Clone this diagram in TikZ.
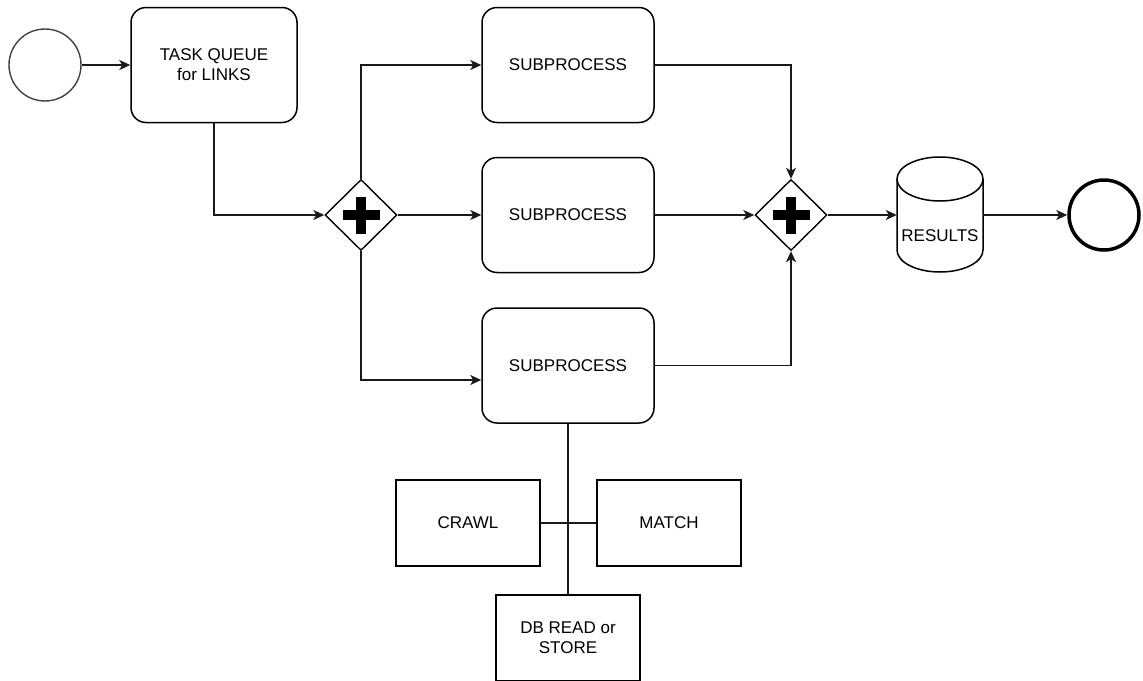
\documentclass[tikz,border=0pt]{standalone}
\usepackage{fontspec}
\setmainfont{Liberation Sans}
\usetikzlibrary{arrows.meta,shapes.geometric}
\begin{document}
\begin{tikzpicture}[x=1pt,y=-1pt,
  every node/.style={font=\fontsize{17}{20}\selectfont, align=center, inner sep=0pt},
  conn/.style={line width=1.5pt, draw=black!90},
  flow/.style={conn, -{Stealth[length=11pt,width=10pt,inset=3pt]}},
  task/.style={draw, line width=1.5pt, rounded corners=15pt, minimum width=172pt, minimum height=115pt},
  plainbox/.style={draw, line width=1.5pt, minimum width=144pt, minimum height=86pt},
  gate/.style={draw, diamond, line width=1.4pt, minimum width=72pt, minimum height=71pt},
  event/.style={draw, circle, minimum size=72pt},
  cyl/.style={line width=1.5pt, draw=black}]
\path[use as bounding box, clip] (0,0) rectangle (1143,680);

% events, tasks and gateways
\node[event, line width=1.4pt, draw=black!75] (start) at (45,65) {};
\node[task, minimum width=166pt] (queue) at (214,65) {TASK QUEUE\\for LINKS};
\node[gate] (g1) at (361,215) {};
\node[task] (sp1) at (568,65) {SUBPROCESS};
\node[task] (sp2) at (568,215) {SUBPROCESS};
\node[task] (sp3) at (568,365.5) {SUBPROCESS};
\node[gate] (g2) at (791,215) {};
\node[minimum width=86pt, minimum height=115pt] (res) at (940,215) {};
\node (reslabel) at (940,236) {RESULTS};
\node[event, line width=3.5pt, minimum size=70pt] (end) at (1104,215) {};
\node[plainbox] (crawl) at (468,523) {CRAWL};
\node[plainbox] (match) at (669,523) {MATCH};
\node[plainbox] (db) at (568,638) {DB READ or\\STORE};

% parallel gateway markers
\foreach \g in {g1,g2}{
  \fill (\g.center) +(-18.5,-5) rectangle +(18.5,5);
  \fill (\g.center) +(-5,-18.5) rectangle +(5,18.5);
}

% data store
\draw[cyl] (897,179) -- (897,250)
  arc[start angle=180, end angle=360, x radius=43pt, y radius=22pt] -- (983,179);
\draw[cyl] (940,179) ellipse[x radius=43pt, y radius=22pt];

% sequence flows
\draw[flow] (start) -- (queue);
\draw[flow] (queue.south) |- (g1.west);
\draw[flow] (g1.north) |- (sp1.west);
\draw[flow] (g1.east) -- (sp2.west);
\draw[flow] (g1.south) |- ([yshift=-14.5pt]sp3.west);
\draw[flow] (sp1.east) -| (g2.north);
\draw[flow] (sp2.east) -- (g2.west);
\draw[flow] (sp3.east) -| (g2.south);
\draw[flow] (g2.east) -- (res.west);
\draw[flow] (res.east) -- (end.west);

% subprocess breakdown
\draw[conn] (sp3.south) -- (db.north);
\draw[conn] (crawl.east) -- (match.west);
\end{tikzpicture}
\end{document}
